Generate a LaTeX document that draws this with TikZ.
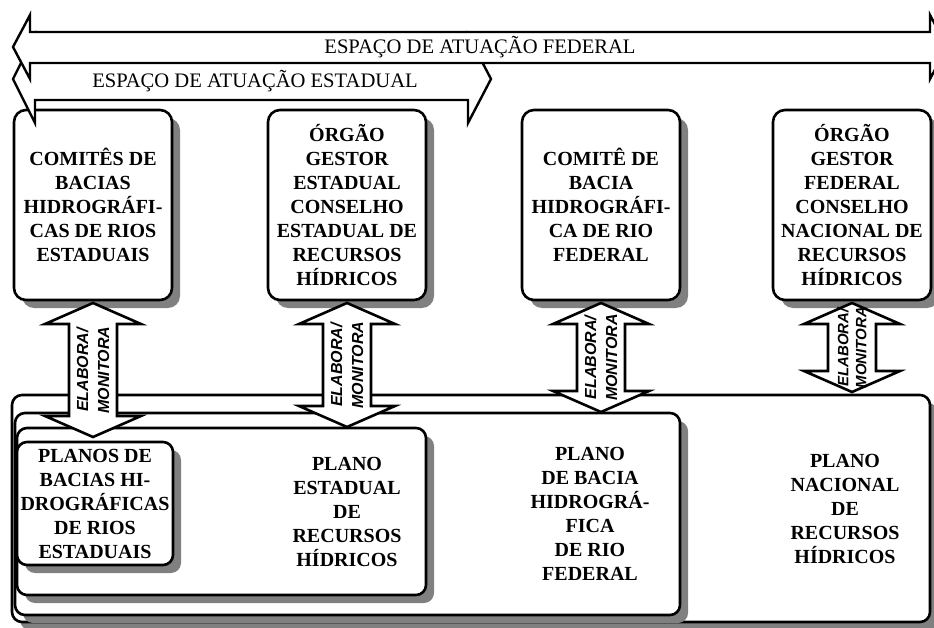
\documentclass[tikz,border=0pt]{standalone}
\usepackage{fontspec}
\setmainfont{Liberation Serif}
\newfontfamily\arrowfont{Liberation Sans}
\usetikzlibrary{calc, shadows}
\definecolor{shadowgray}{RGB}{128,128,128}
\tikzset{
    boxfont/.style={font=\fontsize{20}{24}\selectfont\bfseries},
    orgbox/.style={ % boxes of the bodies and of the plans
        draw, line width=2.6pt, rounded corners=12pt, fill=white,
        minimum width=158pt, minimum height=190pt,
        inner sep=0pt, outer sep=0pt, align=center, boxfont,
        drop shadow={shadow xshift=8pt, shadow yshift=-8pt, fill=shadowgray, opacity=1}
    },
    planbox/.style={orgbox, rounded corners=10pt},
    plantext/.style={align=center, boxfont, inner sep=0pt},
    spacearrow/.style={draw, line width=2.4pt, fill=white, line join=miter},
    spacetext/.style={font=\fontsize{20.6}{24}\selectfont, inner sep=0pt},
    twoway/.style={draw, line width=2.6pt, fill=white, line join=miter},
    arrlabel/.style={rotate=90, align=center, inner sep=0pt,
        font=\arrowfont\fontsize{16}{21}\selectfont\bfseries\itshape},
}
% two-headed block arrow between two points on one vertical
\newcommand{\dblarrow}[2]{%
  \draw[twoway] let \p1=(#1), \p2=(#2) in
    (\x1,\y1) -- (\x1+48pt,\y1-21pt) -- (\x1+24pt,\y1-21pt) -- (\x1+24pt,\y2+21pt)
    -- (\x1+48pt,\y2+21pt) -- (\x1,\y2) -- (\x1-48pt,\y2+21pt) -- (\x1-24pt,\y2+21pt)
    -- (\x1-24pt,\y1-21pt) -- (\x1-48pt,\y1-21pt) -- cycle;}

\begin{document}
\begin{tikzpicture}[x=1pt, y=-1pt]
    \useasboundingbox (0,0) rectangle (934,628);

    % bodies
    \node[orgbox] (comest) at (93,205)  {COMITÊS DE\\BACIAS\\HIDROGRÁFI-\\CAS DE RIOS\\ESTADUAIS};
    \node[orgbox] (orgest) at (347,205) {ÓRGÃO\\GESTOR\\ESTADUAL\\CONSELHO\\ESTADUAL DE\\RECURSOS\\HÍDRICOS};
    \node[orgbox] (comfed) at (601,205) {COMITÊ DE\\BACIA\\HIDROGRÁFI-\\CA DE RIO\\FEDERAL};
    \node[orgbox] (orgfed) at (852,205) {ÓRGÃO\\GESTOR\\FEDERAL\\CONSELHO\\NACIONAL DE\\RECURSOS\\HÍDRICOS};

    % ranges of action
    \draw[spacearrow] (13,79) -- (35,35) -- (35,58) -- (468,58) -- (468,35) -- (491,79)
        -- (468,123) -- (468,100) -- (35,100) -- (35,123) -- cycle;
    \draw[spacearrow] (13,47) -- (30,15) -- (30,32) -- (930,32) -- (930,15) -- (947,47)
        -- (930,79) -- (930,63) -- (30,63) -- (30,79) -- cycle;
    \node[spacetext] (fedtxt) at (480,47) {ESPAÇO DE ATUAÇÃO FEDERAL};
    \node[spacetext] (esttxt) at (255,81) {ESPAÇO DE ATUAÇÃO ESTADUAL};

    % plans
    \node[planbox, minimum width=918pt, minimum height=227pt] (plnac) at (471,508.5) {};
    \node[planbox, minimum width=665pt, minimum height=202pt] (plfed) at (347.5,514) {};
    \node[planbox, minimum width=409pt, minimum height=167pt] (plest) at (221.5,511.5) {};
    \node[planbox, minimum width=156pt, minimum height=123pt] (plbac) at (95,503.5)
        {PLANOS DE\\BACIAS HI-\\DROGRÁFICAS\\DE RIOS\\ESTADUAIS};
    \node[plantext] (txest) at (orgest |- plest) {PLANO\\ESTADUAL\\DE\\RECURSOS\\HÍDRICOS};
    \node[plantext, xshift=-11pt] (txfed) at (comfed |- plfed) {PLANO\\DE BACIA\\HIDROGRÁ-\\FICA\\DE RIO\\FEDERAL};
    \node[plantext, xshift=-7pt] (txnac) at (orgfed |- plnac) {PLANO\\NACIONAL\\DE\\RECURSOS\\HÍDRICOS};

    % elabora / monitora
    \foreach \up/\dn/\gap/\fs/\bs in {comest/plbac/-5/16/21, orgest/plest/-1/16/21,
                                   comfed/plfed/-1/16/21, orgfed/plnac/-3/15/18} {
        \coordinate (t-\up) at ($(\up.south)+(0,3)$);
        \coordinate (b-\up) at ($(\up.south |- \dn.north)+(0,\gap)$);
        \dblarrow{t-\up}{b-\up}
        \node[arrlabel, font=\arrowfont\fontsize{\fs}{\bs}\selectfont\bfseries\itshape]
            (lb-\up) at ($(t-\up)!0.5!(b-\up)$) {ELABORA/\\MONITORA};
    }
\end{tikzpicture}
\end{document}
